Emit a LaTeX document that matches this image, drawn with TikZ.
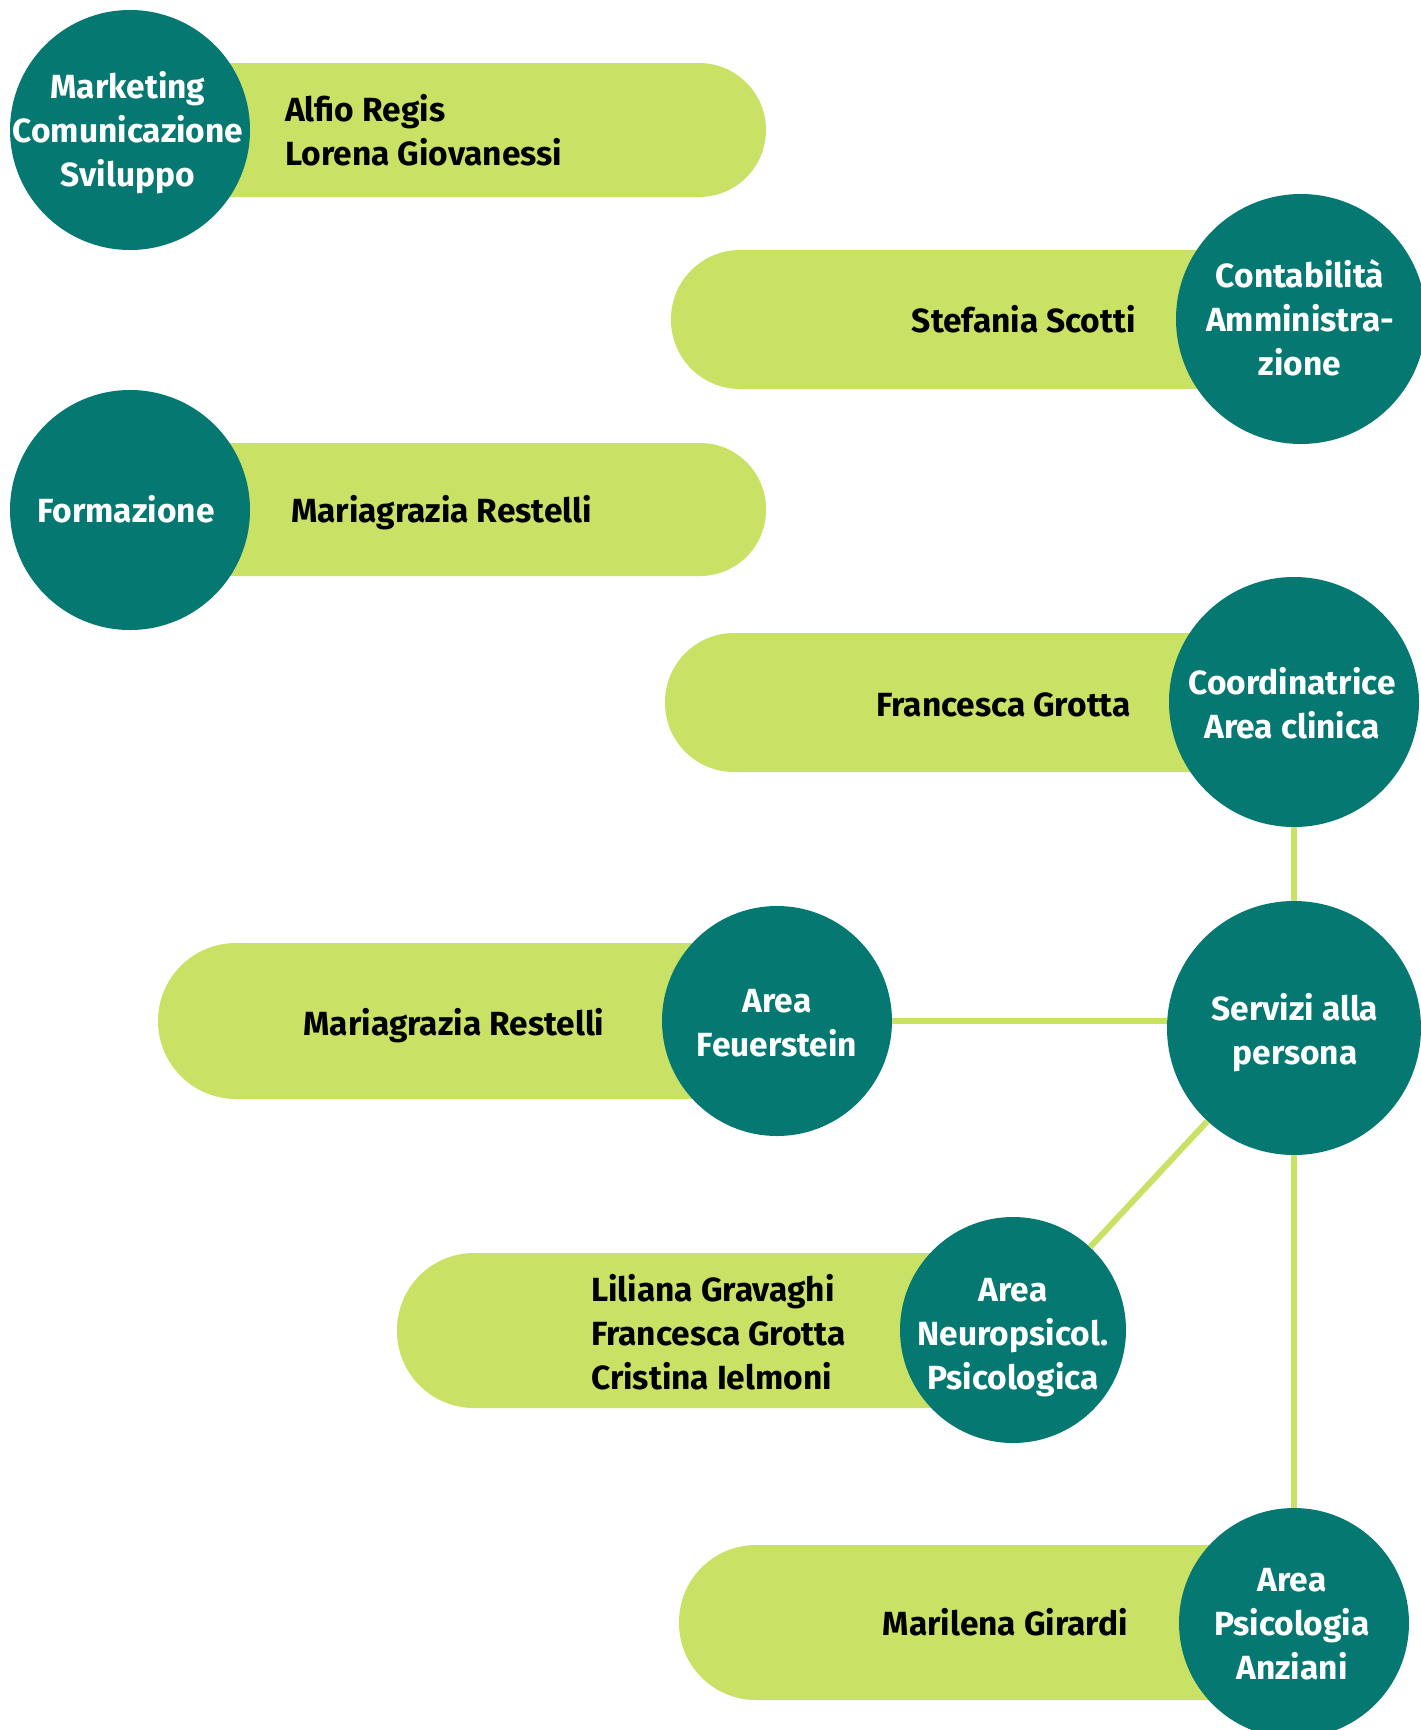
\documentclass[tikz,border=0pt]{standalone}
\usepackage{fontspec}
\setmainfont{Fira Sans}
\usetikzlibrary{calc}
\definecolor{tealc}{HTML}{047871}
\definecolor{limec}{HTML}{C9E265}
\begin{document}
\begin{tikzpicture}[x=1pt,y=-1pt,
  circ/.style={circle,fill=tealc,inner sep=0pt,minimum size=#1},
  pill/.style={fill=limec,rounded corners=#1},
  link/.style={draw=limec,line width=6pt},
  ctext/.style={text=white,font=\bfseries\fontsize{33.5}{44}\selectfont,inner sep=0pt,anchor=base,align=center},
  ntext/.style={text=black,font=\bfseries\fontsize{33.5}{44}\selectfont,inner sep=0pt,align=left},
]
\useasboundingbox (0,0) rectangle (1421,1730);
\fill[white] (0,0) rectangle (1421,1730);

% pills
\fill[pill=67pt] (63,63) rectangle (766,197);
\fill[pill=69pt] (671,250) rectangle (1370,389);
\fill[pill=66pt] (63,443) rectangle (766,576);
\fill[pill=69pt] (665,633) rectangle (1364,772);
\fill[pill=78pt] (158,943) rectangle (855,1099);
\fill[pill=77pt] (397,1253) rectangle (1090,1408);
\fill[pill=77pt] (679,1545) rectangle (1370,1700);

% circles
\node[circ=240pt] (c1) at (130,130) {};
\node[circ=250pt] (c2) at (1301,319) {};
\node[circ=240pt] (c3) at (130,510) {};
\node[circ=250pt] (c4) at (1294,702) {};
\node[circ=254pt] (c5) at (1294,1028) {};
\node[circ=230pt] (c6) at (777,1021) {};
\node[circ=226pt] (c7) at (1013,1330) {};
\node[circ=230pt] (c8) at (1294,1623) {};

% circle texts (anchor = baseline of last line)
\node[ctext] (t1) at (128,186) {Marketing\\Comunicazione\\Sviluppo};
\node[ctext] (t2) at (1300,375) {Contabilità\\Amministra-\\zione};
\node[ctext] (t3) at (126,522) {Formazione};
\node[ctext] (t4) at (1292,738) {Coordinatrice\\Area clinica};
\node[ctext] (t5) at (1295,1064) {Servizi alla\\persona};
\node[ctext] (t6) at (777,1056) {Area\\Feuerstein};
\node[ctext] (t7) at (1013,1389) {Area\\Neuropsicol.\\Psicologica};
\node[ctext] (t8) at (1292,1679) {Area\\Psicologia\\Anziani};

% names
\node[ntext,anchor=base west] (n1) at (285,165) {Alfio Regis\\Lorena Giovanessi};
\node[ntext,anchor=base east] (n2) at (1136,332) {Stefania Scotti};
\node[ntext,anchor=base west] (n3) at (291,522) {Mariagrazia Restelli};
\node[ntext,anchor=base east] (n4) at (1131,716) {Francesca Grotta};
\node[ntext,anchor=base] (n5) at (454,1035) {Mariagrazia Restelli};
\node[ntext,anchor=base west] (n6) at (591,1389) {Liliana Gravaghi\\Francesca Grotta\\Cristina Ielmoni};
\node[ntext,anchor=base east] (n7) at (1128,1635) {Marilena Girardi};

% connectors
\draw[link] (c4) -- (c5);
\draw[link] (c6.east) -- (c6.east -| c5.west);
\draw[link] (c5) -- (c7);
\draw[link] (c5) -- (c8);
\end{tikzpicture}
\end{document}
